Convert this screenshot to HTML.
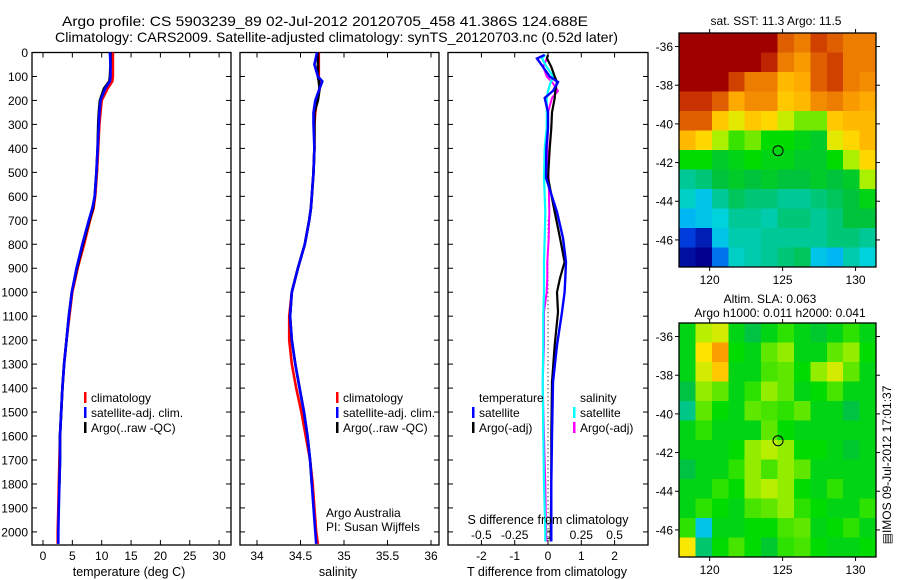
<!DOCTYPE html>
<html><head><meta charset="utf-8">
<style>
html,body{margin:0;padding:0;background:#fff;}
svg{display:block;font-family:"Liberation Sans",sans-serif;}
</style></head>
<body>
<svg id="fig" width="900" height="580" viewBox="0 0 900 580">
<rect x="0" y="0" width="900" height="580" fill="#fff"/>
<text x="62" y="26" font-size="14" textLength="526" lengthAdjust="spacingAndGlyphs">Argo profile: CS 5903239_89 02-Jul-2012 20120705_458 41.386S 124.688E</text>
<text x="55" y="42" font-size="14" textLength="563" lengthAdjust="spacingAndGlyphs">Climatology: CARS2009. Satellite-adjusted climatology: synTS_20120703.nc (0.52d later)</text>
<g id="g"></g>
</svg>
<script>
// ---- profile data ----
const depths = [0,50,100,120,150,200,250,300,400,500,600,650,700,800,900,1000,1100,1200,1300,1400,1500,1600,1700,1800,1900,2000,2050];
const tempClim = [11.9,11.9,11.9,11.8,11.0,10.0,9.8,9.6,9.4,9.2,8.9,8.6,8.0,7.0,5.9,5.0,4.5,4.0,3.6,3.3,3.1,2.9,2.8,2.7,2.6,2.5,2.5];
const tempSat = [11.4,11.5,11.5,11.4,10.6,9.8,9.6,9.5,9.3,9.1,8.8,8.4,7.8,6.7,5.7,4.9,4.4,4.0,3.6,3.3,3.1,2.9,2.9,2.8,2.7,2.6,2.6];
const tempArgo = [11.5,11.5,11.4,11.3,10.4,9.7,9.5,9.4,9.3,9.1,8.8,8.5,7.9,6.8,5.8,4.9,4.4,4.0,3.6,3.3,3.1,2.9,2.9,2.8,2.7,2.6,2.6];
const salClim = [34.71,34.71,34.71,34.72,34.72,34.69,34.67,34.66,34.66,34.65,34.63,34.62,34.60,34.55,34.47,34.40,34.37,34.37,34.40,34.45,34.51,34.56,34.61,34.64,34.66,34.68,34.70];
const salSat = [34.69,34.66,34.70,34.75,34.72,34.67,34.65,34.65,34.66,34.65,34.63,34.62,34.60,34.55,34.47,34.40,34.38,34.40,34.44,34.49,34.54,34.58,34.61,34.63,34.65,34.67,34.68];
const salArgo = [34.70,34.70,34.70,34.71,34.72,34.70,34.66,34.66,34.66,34.65,34.63,34.62,34.60,34.55,34.47,34.40,34.38,34.40,34.44,34.49,34.54,34.58,34.61,34.63,34.65,34.67,34.68];
// ---- difference data ----
const diffDepths = [10,25,60,100,123,160,190,250,315,400,523,665,774,874,941,1000,1083,1221,1375,1600,1800,2000,2040];
const tDiffSat = [-0.1,-0.33,-0.15,0.05,0.3,0.15,-0.1,0,0,-0.05,-0.06,0.27,0.45,0.54,0.52,0.5,0.42,0.27,0.15,0.12,0.1,0.1,0.1];
const tDiffArgo = [0,-0.03,0.1,0.2,0.27,0.22,0.2,0.12,0.1,0.05,0,0.2,0.36,0.5,0.36,0.27,0.3,0.2,0.12,0.1,0.1,0.08,0.08];
const sDiffSat = [-0.02,-0.045,-0.01,0.04,0.02,0,-0.01,-0.008,-0.01,-0.025,-0.03,-0.02,-0.025,-0.03,-0.03,-0.03,-0.035,-0.035,-0.04,-0.035,-0.03,-0.02,-0.02];
const sDiffArgo = [0,-0.01,-0.035,-0.01,0.03,0.075,0.03,0,0,-0.005,0.005,0.01,0.005,-0.005,-0.005,-0.01,-0.03,-0.03,-0.04,-0.03,-0.02,-0.015,-0.01];
// ---- ticks ----
const depthTicks = [0,100,200,300,400,500,600,700,800,900,1000,1100,1200,1300,1400,1500,1600,1700,1800,1900,2000];
const tempTicks = [0,5,10,15,20,25,30];
const salTicks = [34,34.5,35,35.5,36];
const tDiffTicks = [-2,-1,0,1,2];
const sDiffTicks = [-0.5,-0.25,0,0.25,0.5];
const latTicks = [-36,-38,-40,-42,-44,-46];
const lonTicks = [120,125,130];
// ---- map data (12 rows x 12 cols, north to south) ----
const sstGrid = [
[14,14,14,14,14,14,13,12.8,13.2,13,12.8,12.8],
[14,14,14,14,14,13.5,12.8,12.6,13,13.2,12.8,12.8],
[14,14,14,13.2,12.8,12.8,12.4,12.5,13,13.2,12.8,12.7],
[13.3,13.3,13,12.5,12.7,12.7,12.3,12.4,12.7,12.8,12.6,12.5],
[13,13,12.3,12,12.3,12.2,11.9,11.7,11.7,12.3,12.4,12.4],
[12.4,12.2,11.8,11.6,11.7,11.5,11.5,11.4,11.3,12,12.2,12.4],
[11.5,11.5,11.3,11.4,11.5,11.4,11.4,11.3,11.3,11.5,11.8,12.2],
[10.9,11,11.2,11.3,11.2,11.3,11.2,11.2,11.3,11.2,11.3,11.8],
[10.7,10.5,10.9,11.1,11,11,10.9,10.9,11,11.1,11.2,11.4],
[10.4,10.5,10.6,10.9,10.9,10.8,11,11,10.9,11,11.2,11.2],
[9.9,9.7,10.5,10.8,10.8,10.9,10.9,10.9,10.9,11,11,10.9],
[9.6,9.5,10.1,10.7,10.8,10.9,11,11.1,10.5,10.4,10.8,10.6]];
const slaGrid = [
[0,0.1,0.12,0,-0.05,0,0.04,0,-0.03,0,0.04,0],
[0,0.16,0.26,0.02,0,0.06,0.08,0,0,0.06,0.08,0.02],
[0,0.12,0.2,0,0,0.05,0.06,0.02,0.08,0.12,0.06,0],
[-0.05,0.08,0.06,0,0.04,0.08,0.06,0,0.02,0.05,0,0],
[-0.1,0.06,0.02,0,0.06,0.05,0.04,0.06,0,0,-0.05,0],
[0,0.04,0,0,0,0.06,0.02,0,0,0,0,0],
[0,0,0,0.02,0.08,0.1,0.08,0.02,0.02,0,-0.03,0],
[-0.05,0,0,0.04,0.08,0.05,0.08,0.06,0,0,0,0],
[0,0,0.04,0.02,0.08,0.1,0.08,0.02,0,0.04,0,0],
[0,0.04,0.02,0,0.05,0.06,0.08,0.04,0.02,0,0,0.04],
[0.04,-0.2,0,0,0.02,0.02,0.05,0.06,0,0.02,0.04,0],
[0.15,-0.08,0.02,0.05,0.02,-0.03,0.04,0.05,0.02,0,0,0.02]];
const floatLon = 124.688;
const floatLat = -41.386;

const NS = "http://www.w3.org/2000/svg";
const G = document.getElementById('g');
function mk(tag, attrs, parent){ const e=document.createElementNS(NS,tag); for(const k in attrs) e.setAttribute(k,attrs[k]); (parent||G).appendChild(e); return e; }
function txt(x,y,s,anchor,size,parent){ const t=mk('text',{x:x,y:y,'font-size':size||12,'text-anchor':anchor||'start'},parent); t.textContent=s; return t; }

const top0=52.5, bot=545;
function yD(d){ return top0 + d*0.2397; }
const P1={x0:32,x1:231}, P2={x0:240,x1:439}, P3={x0:448,x1:648};
function xT(v){ return 43 + v*5.87; }
function xS(v){ return 257 + (v-34)*87; }
function xTd(v){ return 548 + v*33.3; }
function xSd(v){ return 548 + v*133.2; }

function panel(P,name){
  const g=mk('g',{});  
  mk('rect',{x:P.x0,y:top0,width:P.x1-P.x0,height:bot-top0,fill:'none',stroke:'#000','stroke-width':1.3},g);
  depthTicks.forEach(d=>{ const y=yD(d);
    mk('line',{x1:P.x0,y1:y,x2:P.x0+5,y2:y,stroke:'#000'},g);
    mk('line',{x1:P.x1,y1:y,x2:P.x1-5,y2:y,stroke:'#000'},g); });
  return g;
}
const g1=panel(P1,'temperature-panel'), g2=panel(P2,'salinity-panel'), g3=panel(P3,'difference-panel');
const yl=mk('g',{});  
depthTicks.forEach(d=>txt(28,yD(d)+4.5,String(d),'end',12,yl));

function xticks(g,ticks,fx,y){ ticks.forEach(v=>{ const x=fx(v);
  mk('line',{x1:x,y1:bot,x2:x,y2:bot-5,stroke:'#000'},g); mk('line',{x1:x,y1:top0,x2:x,y2:top0+5,stroke:'#000'},g);
  const t=txt(x,y,String(v),'middle',12,g);   }); }
xticks(g1,tempTicks,xT,560);
xticks(g2,salTicks,xS,560);
tDiffTicks.forEach(v=>{const x=xTd(v); mk('line',{x1:x,y1:bot,x2:x,y2:bot-5,stroke:'#000'},g3); mk('line',{x1:x,y1:top0,x2:x,y2:top0+5,stroke:'#000'},g3); txt(x,560,String(v),'middle',12,g3);});
sDiffTicks.forEach(v=>txt(xSd(v),539,String(v),'middle',12,g3));
let t;
t=txt(129,576,'temperature (deg C)','middle',12.5);  
t=txt(338,576,'salinity','middle',12.5);  
t=txt(547,576,'T difference from climatology','middle',12.5);  
t=txt(548,524,'S difference from climatology','middle',12.5);  
t=txt(326,517,'Argo Australia','start',12);  
t=txt(326,531,'PI: Susan Wijffels','start',12);  

function line(g,xs,ds,fx,color,name,w){
  const pts=xs.map((v,i)=>fx(v).toFixed(1)+','+yD(ds[i]).toFixed(1)).join(' ');
  const p=mk('polyline',{points:pts,fill:'none',stroke:color,'stroke-width':w||2.6,'stroke-linejoin':'miter'},g);
    return p;
}
line(g1,tempClim,depths,xT,'#ff0000','temp-climatology-line');
line(g1,tempArgo,depths.slice(0,24),xT,'#000','temp-argo-line');
line(g1,tempSat,depths,xT,'#0000ff','temp-satellite-line');
line(g2,salClim,depths,xS,'#ff0000','sal-climatology-line');
line(g2,salArgo,depths.slice(0,24),xS,'#000','sal-argo-line');
line(g2,salSat,depths,xS,'#0000ff','sal-satellite-line');
const z=mk('line',{x1:xTd(0),y1:yD(700),x2:xTd(0),y2:bot,stroke:'#000','stroke-dasharray':'1,3'},g3);
 
line(g3,sDiffArgo,diffDepths,xSd,'#ff00ff','s-diff-argo-line',2);
line(g3,sDiffSat,diffDepths,xSd,'#00ffff','s-diff-satellite-line',2.2);
line(g3,tDiffArgo,diffDepths,xTd,'#000','t-diff-argo-line',2.2);
line(g3,tDiffSat,diffDepths,xTd,'#0000ff','t-diff-satellite-line',2.4);

function legend(x,y0,items,name,head){
  const g=mk('g',{});  
  let y=y0;
  if(head){ txt(x+7,y,head,'start',12,g); y+=15; }
  items.forEach(it=>{ const e=mk('g',{},g);  
    mk('rect',{x:x,y:y-10,width:2.5,height:11,fill:it[0]},e); txt(x+7,y,it[1],'start',12,e); y+=15; });
}
legend(84,402,[['#ff0000','climatology'],['#0000ff','satellite-adj. clim.'],['#000','Argo(..raw -QC)']],'temperature-legend');
legend(336,402,[['#ff0000','climatology'],['#0000ff','satellite-adj. clim.'],['#000','Argo(..raw -QC)']],'salinity-legend');
legend(472,402,[['#0000ff','satellite'],['#000','Argo(-adj)']],'t-diff-legend','temperature');
legend(573,402,[['#00ffff','satellite'],['#ff00ff','Argo(-adj)']],'s-diff-legend','salinity');

// ---- maps ----
const stops=[[9.5,0,0,140],[9.9,0,60,220],[10.3,0,170,255],[10.6,0,210,220],[10.9,0,200,150],[11.2,0,195,60],[11.5,0,220,0],[11.8,170,240,0],[12.1,255,230,0],[12.5,255,170,0],[12.9,230,110,0],[13.3,200,50,0],[14,160,0,0]];
function cmap(v){ if(v<=stops[0][0]) return 'rgb('+stops[0].slice(1)+')';
  for(let i=1;i<stops.length;i++){ if(v<=stops[i][0]){ const a=stops[i-1],b=stops[i],f=(v-a[0])/(b[0]-a[0]);
    return 'rgb('+[1,2,3].map(k=>Math.round(a[k]+(b[k]-a[k])*f)).join(',')+')'; } }
  return 'rgb('+stops[stops.length-1].slice(1)+')'; }
const LON0=117.9, LON1=131.4, LAT0=-35.3, LAT1=-47.4;
function mapPanel(top,grid,toLevel,name){
  const g=mk('g',{});  
  const x0=679,x1=876,y1=top+234;
  const fx=lon=>x0+(lon-LON0)/(LON1-LON0)*(x1-x0);
  const fy=lat=>top+(lat-LAT0)/(LAT1-LAT0)*(y1-top);
  const rows=grid.length, cols=grid[0].length, cw=(x1-x0)/cols, ch=(y1-top)/rows;
  grid.forEach((row,r)=>row.forEach((v,c)=>{
    const cell=mk('rect',{x:(x0+c*cw).toFixed(2),y:(top+r*ch).toFixed(2),width:(cw+0.6).toFixed(2),height:(ch+0.6).toFixed(2),fill:cmap(toLevel(v)),'shape-rendering':'crispEdges'},g);
      }));
  mk('rect',{x:x0,y:top,width:x1-x0,height:y1-top,fill:'none',stroke:'#000','stroke-width':1.3},g);
  latTicks.forEach(l=>{ const y=fy(l); mk('line',{x1:x0-4,y1:y,x2:x0,y2:y,stroke:'#000'},g); mk('line',{x1:x1,y1:y,x2:x1+4,y2:y,stroke:'#000'},g); txt(x0-6,y+4.5,String(l),'end',12,g); });
  lonTicks.forEach(l=>{ const x=fx(l); mk('line',{x1:x,y1:y1,x2:x,y2:y1+4,stroke:'#000'},g); mk('line',{x1:x,y1:top-4,x2:x,y2:top,stroke:'#000'},g); txt(x,y1+17,String(l),'middle',12,g); });
  const m=mk('circle',{cx:fx(floatLon),cy:fy(floatLat),r:5,fill:'none',stroke:'#000','stroke-width':1},g);
   
}
mapPanel(33,sstGrid,v=>v,'sst-map');
mapPanel(323,slaGrid,v=>11.4+v*4.5,'sla-map');
t=txt(776,25,'sat. SST: 11.3 Argo: 11.5','middle',12);  
t=txt(770,303,'Altim. SLA: 0.063','middle',12);  
t=txt(780,317,'Argo h1000: 0.011 h2000: 0.041','middle',12);  
t=txt(0,0,'\u25A4IMOS 09-Jul-2012 17:01:37','middle',12); t.setAttribute('transform','translate(891,465) rotate(-90)');
 
</script>
</body></html>
